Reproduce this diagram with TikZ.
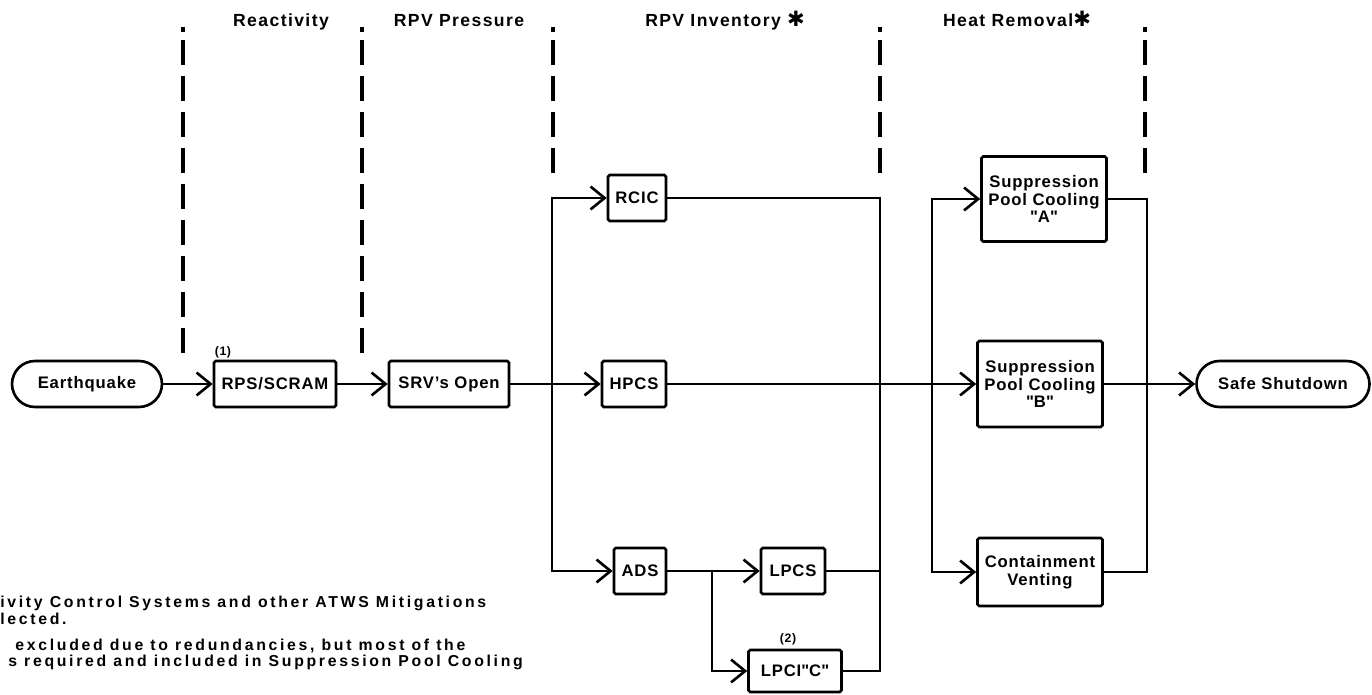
\documentclass[tikz,border=0pt]{standalone}
\usepackage{fontspec}
\setmainfont[LetterSpace=5]{Liberation Sans}
\newfontfamily\symfont{DejaVu Sans}
\usetikzlibrary{arrows.meta,positioning}

\tikzset{
  sysbox/.style={draw, line width=1.5pt, rounded corners=1pt, inner sep=0pt,
    align=center, minimum height=0.92cm,
    font=\fontsize{9.5}{10}\selectfont\bfseries},
  endbox/.style={sysbox, rounded corners=0.46cm},
  flow/.style={line width=1.5pt},
  zone/.style={line width=2pt, dash pattern=on 0.5cm off 0.22cm},
  head/.style={anchor=base, font=\fontsize{10}{11}\selectfont\bfseries\addfontfeature{LetterSpace=8}},
  tag/.style={inner sep=1pt, font=\fontsize{7}{8}\selectfont\bfseries},
  note/.style={anchor=north west, inner sep=0pt, align=left,
    font=\fontsize{9}{7.9}\selectfont\bfseries\addfontfeature{LetterSpace=17}}
}

\begin{document}
\begin{tikzpicture}[x=0.02cm, y=-0.02cm,
    >={Straight Barb[length=8pt,width=13pt]}]
    \useasboundingbox (0,0) rectangle (1372,695);

    % 1. Vùng chức năng (đường gạch)
    \foreach \xz/\yz in {183/362, 362/362, 553/176, 880/176, 1145/176} {
        \draw[line width=2pt] (\xz,27) -- (\xz,32);
        \draw[zone] (\xz,40) -- (\xz,\yz);
    }
    \node[head] (hreact) at (281,27) {Reactivity};
    \node[head] (hpress) at (459,27) {RPV Pressure};
    \node[head] (hinv) at (725,27) {RPV Inventory {\symfont\large ✱}};
    \node[head] (hheat) at (1017,27) {Heat Removal{\symfont\large ✱}};

    % 2. Các khối hệ thống
    \node[endbox, minimum width=3cm] (eq) at (87,384) {Earthquake};
    \node[sysbox, minimum width=2.44cm] (rps) at (275,384) {RPS/SCRAM};
    \node[sysbox, minimum width=2.4cm] (srv) at (449,384) {SRV's Open};
    \node[sysbox, minimum width=1.16cm] (rcic) at (637,198) {RCIC};
    \node[sysbox, minimum width=1.28cm] (hpcs) at (634,384) {HPCS};
    \node[sysbox, minimum width=1.04cm] (ads) at (640,571) {ADS};
    \node[sysbox, minimum width=1.28cm] (lpcs) at (793,571) {LPCS};
    \node[sysbox, minimum width=1.86cm, minimum height=0.84cm] (lpci) at (795,671)
        {LPCI\textquotedbl C\textquotedbl};
    \node[sysbox, minimum width=2.5cm, minimum height=1.7cm] (spca) at (1044,199)
        {Suppression\\Pool Cooling\\\textquotedbl A\textquotedbl};
    \node[sysbox, minimum width=2.5cm, minimum height=1.72cm] (spcb) at (1040,384)
        {Suppression\\Pool Cooling\\\textquotedbl B\textquotedbl};
    \node[sysbox, minimum width=2.5cm, minimum height=1.36cm] (cv) at (1040,572)
        {Containment\\Venting};
    \node[endbox, minimum width=3.46cm] (safe) at (1283,384) {Safe Shutdown};

    \node[tag, above right] (t1) at (rps.north west) {(1)};
    \node[tag, above=1pt of lpci.north, xshift=-4pt] (t2) {(2)};

    % 3. Điểm rẽ nhánh
    \coordinate (invL) at (552,384);
    \coordinate (invR) at (880,384);
    \coordinate (adsJ) at (712,571);
    \coordinate (heatL) at (932,384);
    \coordinate (heatR) at (1147,384);

    % 4. Đường nối
    \draw[flow, ->] (eq) -- (rps);
    \draw[flow, ->] (rps) -- (srv);
    \draw[flow, ->] (srv) -- (hpcs);
    \draw[flow, ->] (invL) |- (rcic);
    \draw[flow, ->] (invL) |- (ads);
    \draw[flow, ->] (ads) -- (lpcs);
    \draw[flow, ->] (adsJ) |- (lpci);
    \draw[flow] (rcic) -| (invR);
    \draw[flow] (lpcs) -| (invR);
    \draw[flow] (lpci) -| (invR);
    \draw[flow, ->] (hpcs) -- (spcb);
    \draw[flow, ->] (heatL) |- (spca);
    \draw[flow, ->] (heatL) |- (cv);
    \draw[flow] (spca) -| (heatR);
    \draw[flow] (cv) -| (heatR);
    \draw[flow, ->] (spcb) -- (safe);

    % 5. Ghi chú
    \node[note] (n1) at (0,596)
        {ivity Control Systems and other ATWS Mitigations\\lected.};
    \node[note] (n2) at (8,639)
        {\hspace{4pt}excluded due to redundancies, but most of the\\s required and included in Suppression Pool Cooling};
\end{tikzpicture}
\end{document}
